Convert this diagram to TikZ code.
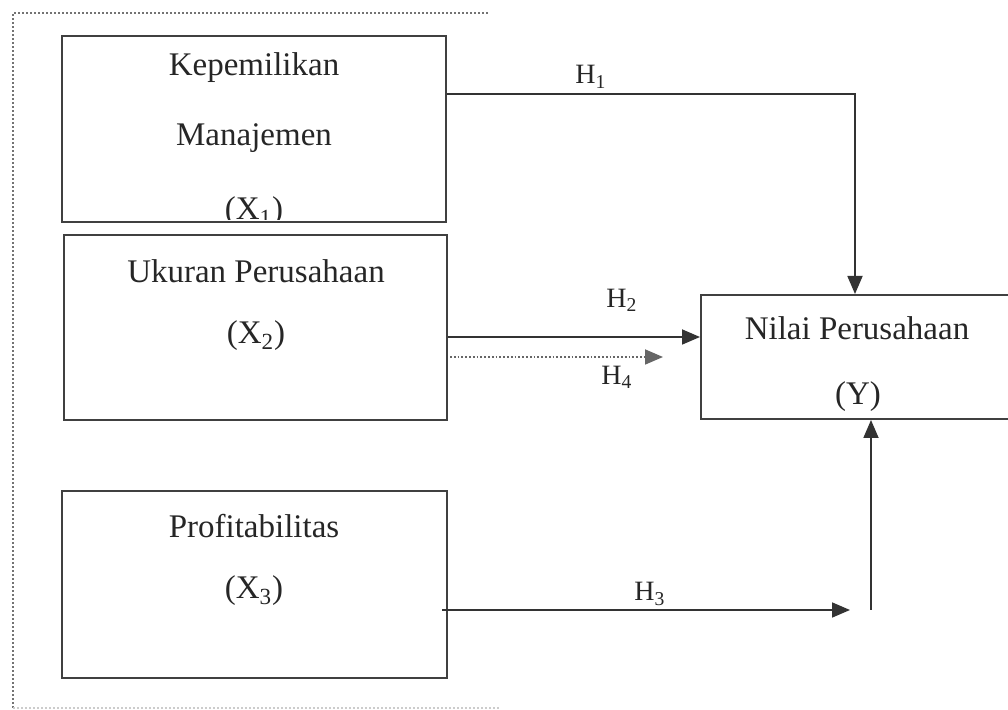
\documentclass[tikz,border=0pt]{standalone}
\usepackage{fontspec}
\setmainfont{Liberation Serif}
\usetikzlibrary{arrows.meta}
\begin{document}
\begin{tikzpicture}[x=0.5pt,y=-0.5pt,
  box/.style={draw=black!75,line width=1pt,rectangle,inner sep=0pt},
  txt/.style={inner sep=0pt,font=\fontsize{16.5}{18}\selectfont,text=black!85},
  hlab/.style={inner sep=0pt,font=\fontsize{14}{16}\selectfont,text=black!85},
  conn/.style={draw=black!80,line width=0.9pt,-{Triangle[length=9pt,width=7.5pt]}},
  frame/.style={draw=black!55,line width=1pt,densely dotted}]
\useasboundingbox (0,0) rectangle (1008,710);
% dotted frame
\coordinate (fa) at (13,708);
\coordinate (fb) at (13,13);
\coordinate (fc) at (490,13);
\coordinate (fd) at (500,708);
\draw[frame] (fa) -- (fb) -- (fc);
\draw[frame,draw=black!20] (fa) -- (fd);
% boxes
\node[box,minimum width=192pt,minimum height=93pt] (x1) at (254,129) {};
\node[box,minimum width=191.5pt,minimum height=92.5pt] (x2) at (255.5,327.5) {};
\node[box,minimum width=192.5pt,minimum height=93.5pt] (x3) at (254.5,584.5) {};
\node[box,minimum width=157pt,minimum height=62pt] (y) at (858,357) {};
% texts
\node[txt] (t1a) at (254,68) {Kepemilikan};
\node[txt] (t1b) at (254,138) {Manajemen};
\begin{scope}
\clip (62,36) rectangle (446,220);
\node[txt] (t1c) at (254,212) {(X\textsubscript{1})};
\end{scope}
\node[txt] (t2a) at (256,271) {Ukuran Perusahaan};
\node[txt] (t2b) at (256,336) {(X\textsubscript{2})};
\node[txt] (t3a) at (254,526) {Profitabilitas};
\node[txt] (t3b) at (254,591) {(X\textsubscript{3})};
\node[txt] (tya) at (857,328) {Nilai Perusahaan};
\node[txt] (tyb) at (858,397) {(Y)};
% connectors
\coordinate (c1) at (855,94);
\draw[conn] (x1.east |- c1) -- (c1) -- (y.north -| c1);
\coordinate (c2) at (701,337);
\draw[conn] (x2.east |- c2) -- (y.west |- c2);
\coordinate (c4s) at (450,357);
\coordinate (c4) at (663,357);
\draw[conn,densely dotted,draw=black!60] (c4s) -- (c4);
\coordinate (c3s) at (442,610);
\coordinate (c3) at (850,610);
\draw[conn] (c3s) -- (c3);
\coordinate (c5) at (871,610);
\draw[conn] (c5) -- (y.south -| c5);
% labels
\node[hlab] (h1) at (591,77) {H\textsubscript{1}};
\node[hlab] (h2) at (622,300) {H\textsubscript{2}};
\node[hlab] (h4) at (617,377) {H\textsubscript{4}};
\node[hlab] (h3) at (650,594) {H\textsubscript{3}};
\end{tikzpicture}
\end{document}
